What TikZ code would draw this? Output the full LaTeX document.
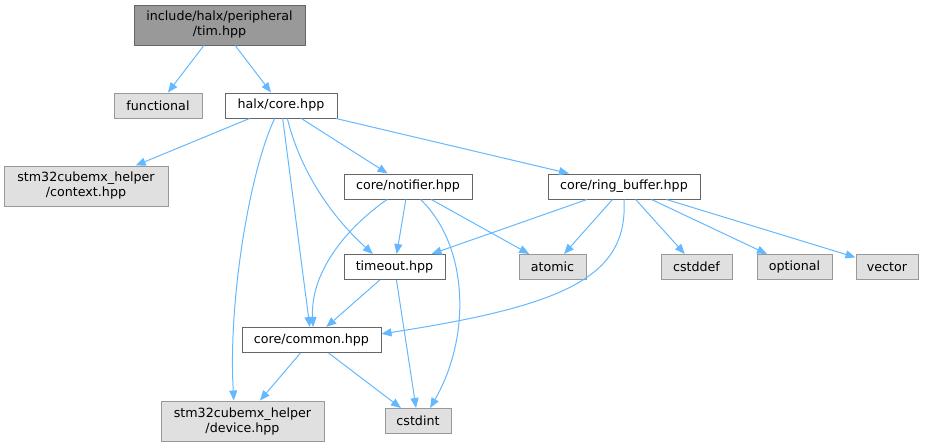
\documentclass[tikz,border=0pt]{standalone}
\usepackage{fontspec}
\setmainfont{DejaVu Sans}
\usetikzlibrary{arrows.meta}
\definecolor{edgeblue}{HTML}{63B8FF}
\definecolor{boxline}{HTML}{666666}
\definecolor{sysline}{HTML}{999999}
\definecolor{sysfill}{HTML}{E0E0E0}
\definecolor{rootfill}{HTML}{999999}

\begin{document}
\begin{tikzpicture}[x=0.75pt,y=-0.75pt,>={Triangle[length=7.5pt,width=6pt]}]
                    \tikzset{box/.style={draw=boxline,fill=white,line width=0.75pt,inner sep=0pt,minimum height=18.75pt,align=center,font=\fontsize{9.5}{11.25}\selectfont}}
                    \tikzset{sysbox/.style={box,draw=sysline,fill=sysfill}}
                    \tikzset{dep/.style={->,edgeblue,line width=0.75pt}}
                    \useasboundingbox (0,0) rectangle (925,447);
                    % files
                    \node[box,fill=rootfill,minimum width=128.25pt,minimum height=30pt] (tim) at (219.5,25) {include/halx/peripheral\\/tim.hpp};
                    \node[sysbox,minimum width=66pt] (functional) at (158,105.5) {functional};
                    \node[box,minimum width=84pt] (core) at (281,105.5) {halx/core.hpp};
                    \node[sysbox,minimum width=123pt,minimum height=30pt] (context) at (86,186) {stm32cubemx\_helper\\/context.hpp};
                    \node[box,minimum width=96pt] (notifier) at (408,186.5) {core/notifier.hpp};
                    \node[box,minimum width=114pt] (ringbuf) at (624,186.5) {core/ring\_buffer.hpp};
                    \node[box,minimum width=75.75pt] (timeout) at (394.5,267) {timeout.hpp};
                    \node[sysbox,minimum width=50.25pt] (atomic) at (552.5,267) {atomic};
                    \node[sysbox,minimum width=53.25pt] (cstddef) at (696.5,267) {cstddef};
                    \node[sysbox,minimum width=56.25pt] (optional) at (794.5,267) {optional};
                    \node[sysbox,minimum width=46.5pt] (vector) at (887,267) {vector};
                    \node[box,minimum width=104.25pt] (common) at (311.5,340) {core/common.hpp};
                    \node[sysbox,minimum width=122.25pt,minimum height=30pt] (device) at (242.5,421) {stm32cubemx\_helper\\/device.hpp};
                    \node[sysbox,minimum width=49.5pt] (cstdint) at (418,421) {cstdint};
                    % includes
                    \draw[dep] (tim) -- (functional);
                    \draw[dep] (tim) -- (core);
                    \draw[dep] (core) -- (context);
                    \draw[dep] (core.244) .. controls (250,170) and (228,300) .. (device.113);
                    \draw[dep] (core) -- (common);
                    \draw[dep] (core.296) .. controls (300,170) and (330,215) .. (timeout.149);
                    \draw[dep] (core) -- (notifier);
                    \draw[dep] (core) -- (ringbuf);
                    \draw[dep] (notifier.212) .. controls (350,225) and (310,270) .. (common.83);
                    \draw[dep] (notifier) -- (timeout);
                    \draw[dep] (notifier) -- (atomic);
                    \draw[dep] (notifier.314) .. controls (468,245) and (472,335) .. (cstdint.47);
                    \draw[dep] (ringbuf) -- (timeout);
                    \draw[dep] (ringbuf) -- (atomic);
                    \draw[dep] (ringbuf.south) .. controls (628,275) and (570,305) .. (common.5);
                    \draw[dep] (ringbuf) -- (cstddef);
                    \draw[dep] (ringbuf) -- (optional);
                    \draw[dep] (ringbuf) -- (vector);
                    \draw[dep] (timeout) -- (common);
                    \draw[dep] (timeout) -- (cstdint);
                    \draw[dep] (common) -- (device);
                    \draw[dep] (common) -- (cstdint);
                \end{tikzpicture}
\end{document}
